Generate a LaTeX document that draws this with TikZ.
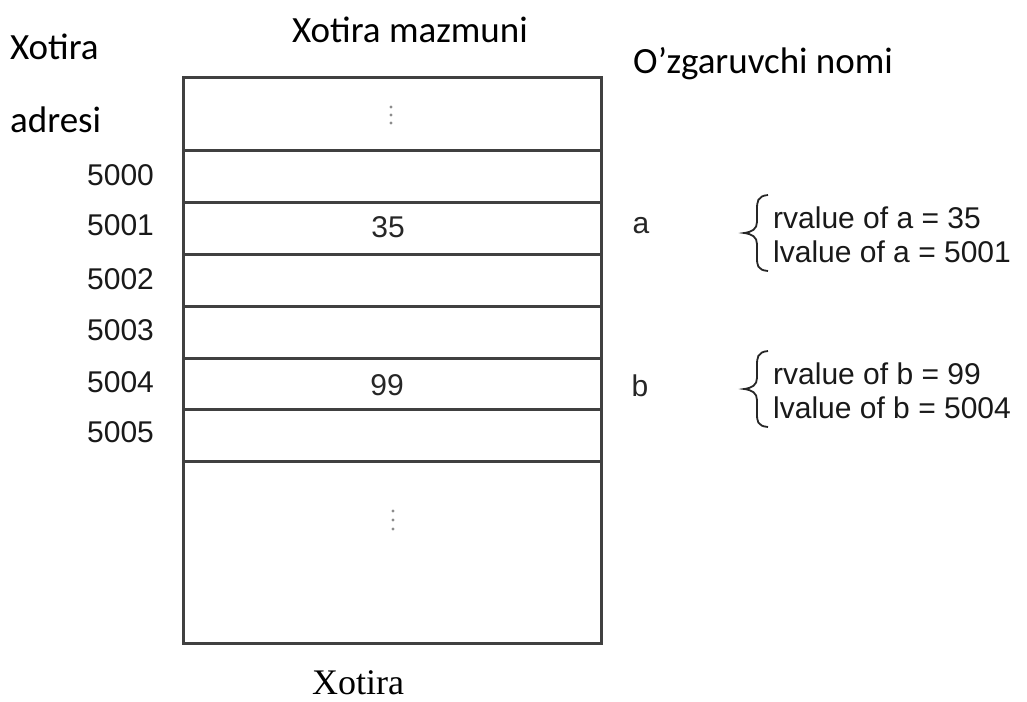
\documentclass[tikz,border=0pt]{standalone}
\usepackage{fontspec}
\setmainfont{Liberation Sans}
\newfontfamily\carlfont{Carlito}
\newfontfamily\tnrfont{Liberation Serif}
\begin{document}
\begin{tikzpicture}[x=1pt,y=-1pt,
  cellline/.style={line width=3pt,draw=black!75},
  addr/.style={anchor=west,inner sep=0pt,font=\fontsize{30}{34}\selectfont,text=black!90},
  val/.style={inner sep=0pt,font=\fontsize{30}{34}\selectfont,text=black!85},
  head/.style={inner sep=0pt,font=\carlfont\fontsize{37}{42}\selectfont},
  note/.style={anchor=west,inner sep=0pt,font=\fontsize{30}{34}\selectfont,align=left,text=black!90},
  bracepath/.style={line width=1.8pt,draw=black!85},
  vdot/.style={circle,fill=black!45,inner sep=0pt,minimum size=3.4pt}]
\useasboundingbox (0,0) rectangle (1027,701);
% memory box
\coordinate (tl) at (183,77);
\coordinate (br) at (601,643);
\draw[cellline] (tl) rectangle (br);
\foreach \yy in {150,202,254,306,358,409,461}{
  \draw[cellline] (183,\yy) -- (601,\yy);
}
% dots
\node[vdot] (d1) at (391,107) {};
\node[vdot] (d2) at (391,115) {};
\node[vdot] (d3) at (391,123) {};
\node[vdot] (d4) at (393,511) {};
\node[vdot] (d5) at (393,520) {};
\node[vdot] (d6) at (393,529) {};
% headers
\node[head,anchor=west] (h1) at (10,47) {Xotira};
\node[head,anchor=west] (h2) at (10,120) {adresi};
\node[head] (h3) at (410,30) {Xotira mazmuni};
\node[head,anchor=west] (h4) at (633,64) {O’zgaruvchi nomi};
\node[inner sep=0pt,font=\tnrfont\fontsize{36}{40}\selectfont] (h5) at (358,683) {Xotira};
% addresses
\node[addr] (a0) at (87,175) {5000};
\node[addr] (a1) at (87,225) {5001};
\node[addr] (a2) at (87,279) {5002};
\node[addr] (a3) at (87,330) {5003};
\node[addr] (a4) at (87,382) {5004};
\node[addr] (a5) at (87,432) {5005};
% values
\node[val] (v1) at (388,227) {35};
\node[val] (v2) at (387,385) {99};
% variable names
\node[val] (na) at (641,226) {a};
\node[val] (nb) at (640,386) {b};
% braces
\draw[bracepath] (768,195) .. controls (757,196) and (757,202) .. (757,210)
  -- (757,222) .. controls (757,229) and (752,232) .. (744,233)
  .. controls (752,234) and (757,237) .. (757,244)
  -- (757,257) .. controls (757,265) and (757,270) .. (768,271);
\draw[bracepath] (768,351) .. controls (757,352) and (757,358) .. (757,366)
  -- (757,378) .. controls (757,385) and (752,388) .. (744,389)
  .. controls (752,390) and (757,393) .. (757,400)
  -- (757,413) .. controls (757,421) and (757,426) .. (768,427);
\node[note] (r1) at (773,218) {rvalue of a = 35};
\node[note] (l1) at (773,252) {lvalue of a = 5001};
\node[note] (r2) at (773,374) {rvalue of b = 99};
\node[note] (l2) at (773,408) {lvalue of b = 5004};
\end{tikzpicture}
\end{document}
